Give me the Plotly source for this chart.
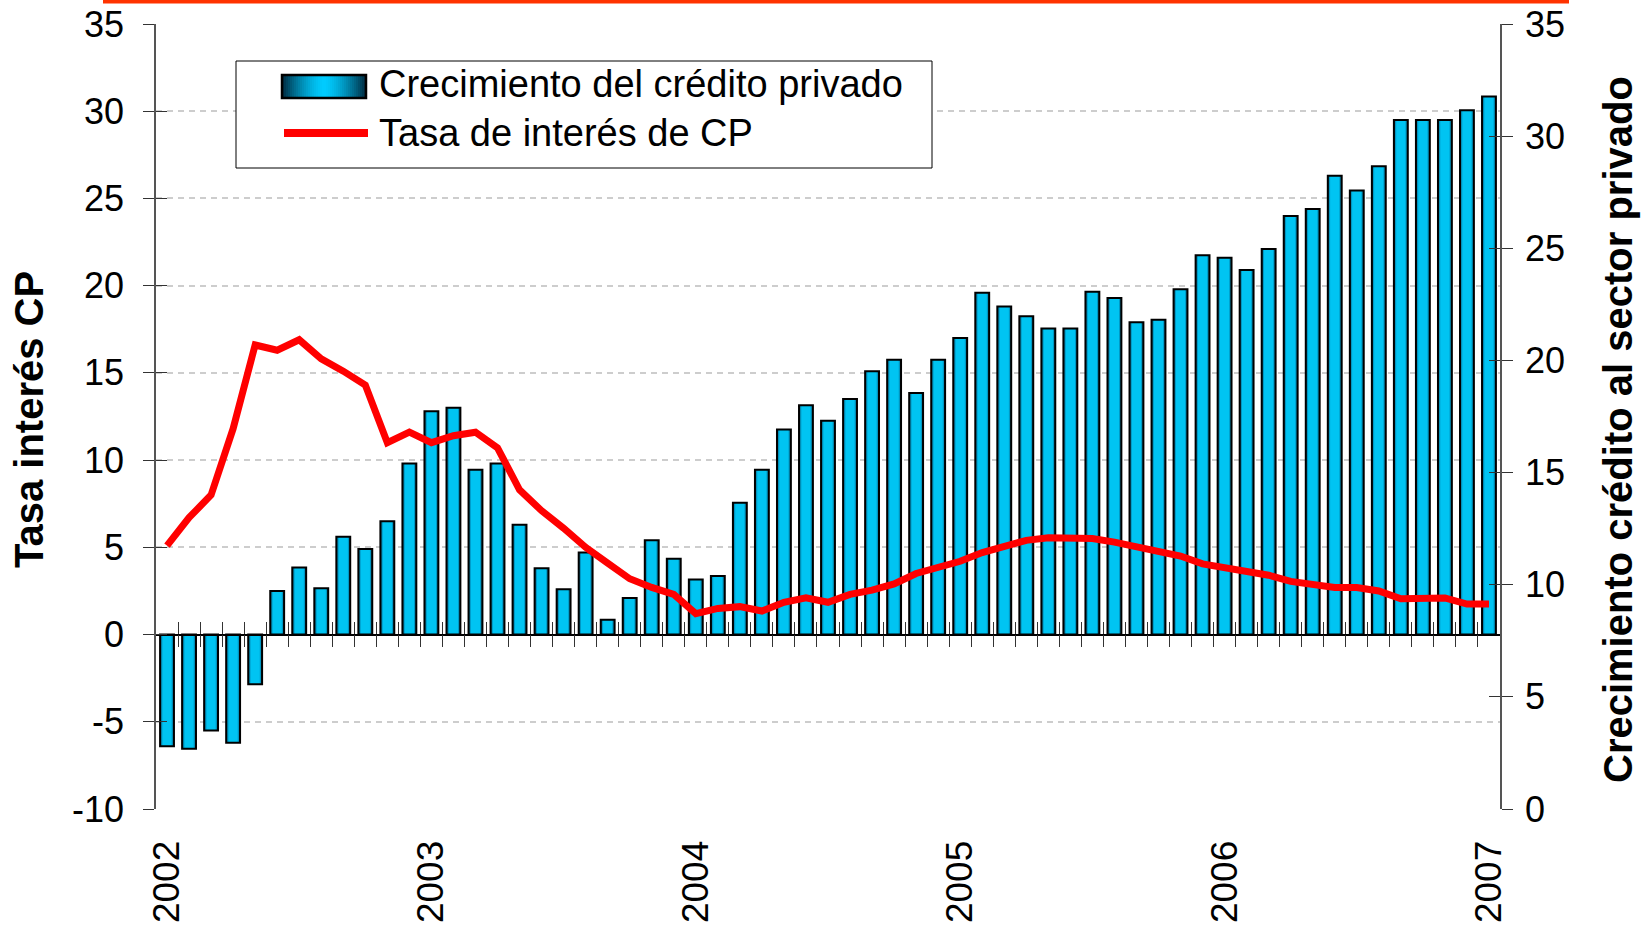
import plotly.graph_objects as go

# meses ene-2002 .. ene-2007
meses = [f"{a}-{m:02d}" for a in range(2002, 2008) for m in range(1, 13)][:61]
anios = ["2002", "2003", "2004", "2005", "2006", "2007"]

credito = [
    -6.4, -6.55, -5.5, -6.2, -2.85, 2.5, 3.85, 2.65, 5.6, 4.9, 6.5, 9.8,
    12.8, 13.0, 9.45, 9.8, 6.3, 3.8, 2.6, 4.7, 0.85, 2.1, 5.4, 4.35,
    3.15, 3.35, 7.55, 9.45, 11.75, 13.15, 12.25, 13.5, 15.1, 15.75, 13.85, 15.75,
    17.0, 19.6, 18.8, 18.25, 17.55, 17.55, 19.65, 19.3, 17.9, 18.05, 19.8, 21.75,
    21.6, 20.9, 22.1, 24.0, 24.4, 26.3, 25.45, 26.85, 29.5, 29.5, 29.5, 30.05,
    30.85,
]
tasa = [
    5.1, 6.7, 8.0, 11.8, 16.6, 16.3, 16.9, 15.8, 15.1, 14.3, 11.0, 11.6,
    11.0, 11.4, 11.6, 10.7, 8.3, 7.1, 6.1, 5.0, 4.1, 3.2, 2.7, 2.3,
    1.2, 1.5, 1.6, 1.35, 1.85, 2.1, 1.85, 2.3, 2.55, 2.9, 3.5, 3.8,
    4.2, 4.7, 5.05, 5.4, 5.55, 5.55, 5.5, 5.3, 5.05, 4.7, 4.5, 4.05,
    3.85, 3.65, 3.4, 3.05, 2.85, 2.7, 2.7, 2.5, 2.05, 2.05, 2.1, 1.75,
    1.75,
]

ticks_izq = [-10, -5, 0, 5, 10, 15, 20, 25, 30, 35]
ticks_der = [0, 5, 10, 15, 20, 25, 30, 35]

FONT = "Liberation Sans, Arial, sans-serif"
W, H = 1646, 926
L, R, T, B = 156, 1500, 24, 809


def fx(p):
    return (p - L) / (R - L)


def fy(p):
    return (B - p) / (B - T)


fig = go.Figure()

# barras con un falso degradado (capas de distinto ancho) y contorno negro encima
for ancho, color in [(0.63, "#07627e"), (0.53, "#0098c4"), (0.42, "#00c4f2")]:
    fig.add_trace(go.Bar(
        x=meses, y=credito, width=ancho,
        marker=dict(color=color, line=dict(width=0)),
        showlegend=False, hoverinfo="skip",
    ))
fig.add_trace(go.Bar(
    x=meses, y=credito, width=0.63,
    marker=dict(color="rgba(0,0,0,0)", line=dict(color="black", width=2)),
    name="Crecimiento del crédito privado", showlegend=False,
))

fig.add_trace(go.Scatter(
    x=meses, y=tasa, mode="lines",
    line=dict(color="#FF0000", width=7),
    name="Tasa de interés de CP", showlegend=False,
))

# trazas vacías para que se dibujen los ejes auxiliares
for xa, ya in [("x", "y2"), ("x", "y3"), ("x", "y4"), ("x2", "y"), ("x3", "y")]:
    fig.add_trace(go.Scatter(x=[None], y=[None], xaxis=xa, yaxis=ya,
                             showlegend=False, hoverinfo="skip"))

n = len(meses)
pos_cero = (0 - ticks_izq[0]) / (ticks_izq[-1] - ticks_izq[0])
bordes = [i + 0.5 for i in range(n - 1)]
eje_cero = dict(
    type="linear", range=[-0.5, n - 0.5], overlaying="x", anchor="free",
    position=pos_cero, tickmode="array", tickvals=bordes, ticklen=12,
    tickcolor="#333", tickwidth=1.2, showticklabels=False, showgrid=False,
    zeroline=False, showline=True, linecolor="black", linewidth=1.5,
    automargin=False,
)
eje_y = dict(tickmode="array", ticklen=11, tickcolor="#333", tickwidth=1.2,
             zeroline=False, showgrid=False, automargin=False)

fig.update_layout(
    width=W, height=H,
    margin=dict(l=L, r=W - R, t=T, b=H - B),
    plot_bgcolor="white", paper_bgcolor="white",
    font=dict(family=FONT, color="black"),
    barmode="overlay",
    showlegend=False,
    xaxis=dict(
        type="category", categoryorder="array", categoryarray=meses,
        range=[-0.5, n - 0.5],
        tickmode="array", tickvals=[m for m in meses if m.endswith("-01")],
        ticktext=anios, tickangle=-90, tickfont=dict(size=37),
        ticks="outside", ticklen=16, tickcolor="rgba(0,0,0,0)",
        showline=False, showgrid=False, zeroline=False, automargin=False,
    ),
    xaxis2=dict(eje_cero, ticks="outside"),
    xaxis3=dict(eje_cero, ticks="inside"),
    yaxis=dict(
        eje_y, range=[ticks_izq[0], ticks_izq[-1]],
        tickvals=ticks_izq, ticktext=[str(v) for v in ticks_izq],
        ticks="outside", showline=True, linecolor="#555", linewidth=1.5,
        showgrid=True, gridcolor="#CDCDCD", gridwidth=1.5, griddash="6px,5px",
        tickfont=dict(size=36), ticklabelstandoff=12,
    ),
    yaxis3=dict(eje_y, overlaying="y", side="left", range=[ticks_izq[0], ticks_izq[-1]],
                tickvals=ticks_izq, ticks="inside", showticklabels=False),
    yaxis2=dict(
        eje_y, overlaying="y", side="right", anchor="x",
        range=[ticks_der[0], ticks_der[-1]],
        tickvals=ticks_der, ticktext=[str(v) for v in ticks_der],
        ticks="outside", showline=True, linecolor="#555", linewidth=1.5,
        tickfont=dict(size=36), ticklabelstandoff=5,
    ),
    yaxis4=dict(eje_y, overlaying="y", side="right", range=[ticks_der[0], ticks_der[-1]],
                tickvals=ticks_der, ticks="inside", showticklabels=False),
)

# títulos de los ejes
fig.add_annotation(x=fx(29), y=fy(420), xref="paper", yref="paper", textangle=-90,
                   xanchor="center", yanchor="middle",
                   text="<b>Tasa interés CP</b>", showarrow=False,
                   font=dict(size=40, family=FONT, color="black"))
fig.add_annotation(x=fx(1618), y=fy(430), xref="paper", yref="paper", textangle=-90,
                   xanchor="center", yanchor="middle",
                   text="<b>Crecimiento crédito al sector privado</b>", showarrow=False,
                   font=dict(size=40, family=FONT, color="black"))

shapes = [
    # franja naranja superior
    dict(type="rect", xref="paper", yref="paper", x0=fx(103), x1=fx(1569),
         y0=fy(3.5), y1=fy(0), fillcolor="#FF3300", line=dict(width=0), layer="above"),
    # caja de leyenda
    dict(type="rect", xref="paper", yref="paper", x0=fx(236), x1=fx(932),
         y0=fy(168), y1=fy(61), fillcolor="white", line=dict(color="black", width=1),
         layer="above"),
]
# muestra de barra con degradado
bx0, bx1, by0, by1 = 282, 366, 75, 98
pasos = 42
for k in range(pasos):
    t = abs((k + 0.5) / pasos - 0.5) * 2
    g_, b_ = int(204 - 165 * t ** 1.5), int(255 - 195 * t ** 1.5)
    shapes.append(dict(
        type="rect", xref="paper", yref="paper",
        x0=fx(bx0 + (bx1 - bx0) * k / pasos), x1=fx(bx0 + (bx1 - bx0) * (k + 1) / pasos),
        y0=fy(by1), y1=fy(by0), fillcolor=f"rgb(0,{g_},{b_})",
        line=dict(width=0), layer="above",
    ))
shapes.append(dict(type="rect", xref="paper", yref="paper", x0=fx(bx0), x1=fx(bx1),
                   y0=fy(by1), y1=fy(by0), line=dict(color="black", width=2.5), layer="above"))
shapes.append(dict(type="line", xref="paper", yref="paper", x0=fx(284), x1=fx(368),
                   y0=fy(133), y1=fy(133), line=dict(color="#FF0000", width=8), layer="above"))
fig.update_layout(shapes=shapes)

for texto, yy in [("Crecimiento del crédito privado", 84), ("Tasa de interés de CP", 133)]:
    fig.add_annotation(
        x=fx(377), y=fy(yy), xref="paper", yref="paper", xanchor="left", yanchor="middle",
        text=texto, showarrow=False, font=dict(size=38, family=FONT, color="black"),
    )

# quitar el margen por defecto del <body> para que la figura ocupe la ventana exacta
fig.write_html("out.html", config={"displayModeBar": False},
               post_script="document.body.style.margin='0';")
